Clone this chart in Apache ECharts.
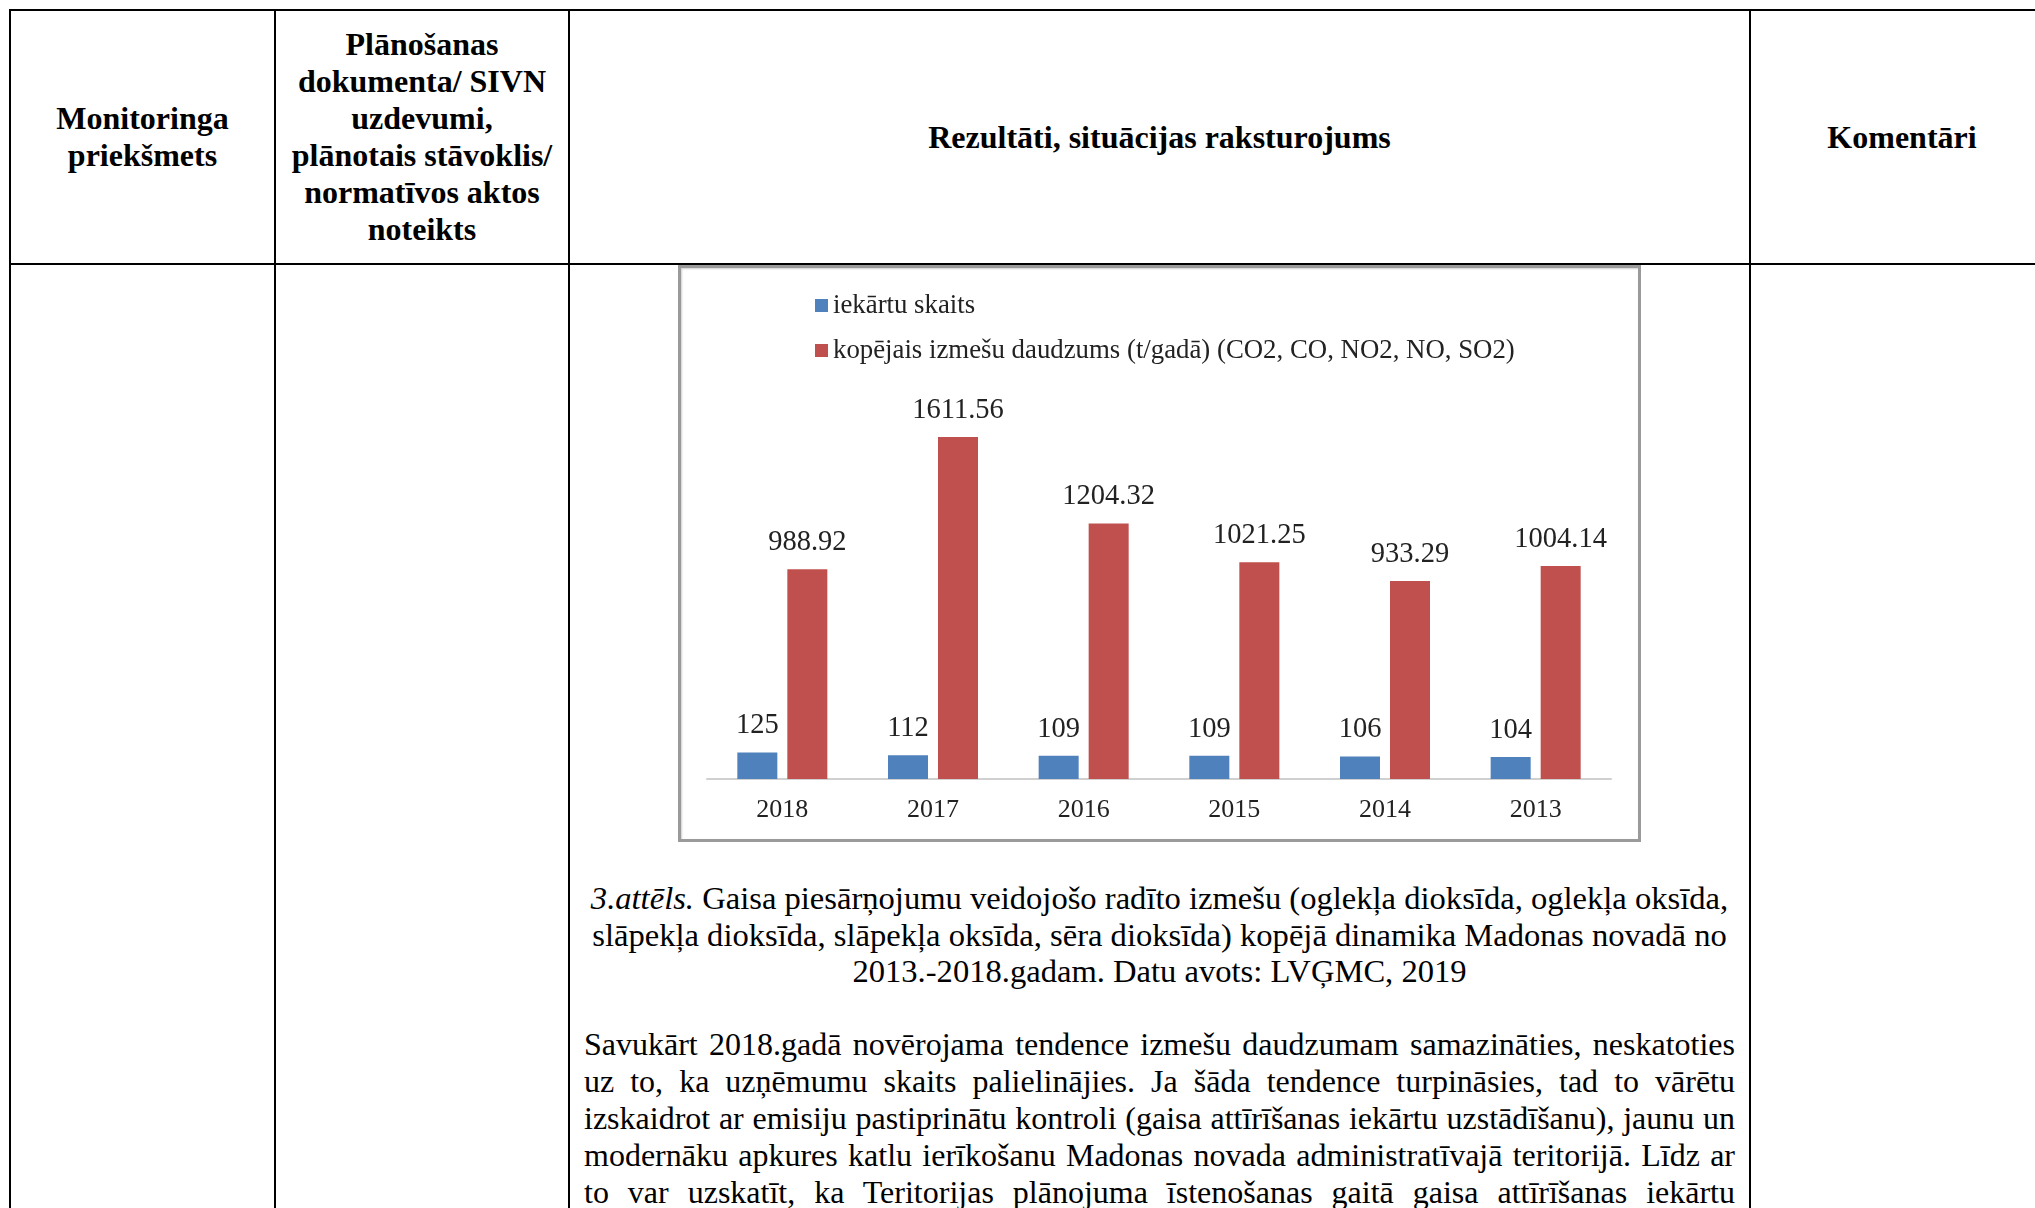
<!DOCTYPE html>
<html>
<head>
<meta charset="utf-8">
<script src="https://cdn.jsdelivr.net/npm/echarts@6/dist/echarts.min.js"></script>
<style>
  html, body { margin: 0; padding: 0; background: #fff; }
  body { width: 2035px; height: 1208px; position: relative; overflow: hidden;
         font-family: "Liberation Serif", "Times New Roman", serif; color: #000; }
  .hl { position: absolute; left: 9px; right: 0; height: 2px; background: #000; }
  .vl { position: absolute; top: 9px; bottom: 0; width: 2px; background: #000; }
  .head { position: absolute; top: 11px; height: 252px; display: flex; align-items: center;
          justify-content: center; text-align: center; font-weight: bold; font-size: 32px;
          line-height: 37px; }
  .caption { position: absolute; left: 570px; width: 1179px; top: 880px; text-align: center;
             font-size: 32.6px; line-height: 36.5px; }
  .para { position: absolute; left: 584px; width: 1151px; top: 1026px; font-size: 32px;
          line-height: 37px; }
  .para div { text-align: justify; text-align-last: justify; white-space: nowrap; }
  #chartBox { position: absolute; left: 678px; top: 265px; width: 957px; height: 571px;
              border: 3px solid #9a9a9a; box-shadow: inset 1px 1px 2px #cfcfcf; background: #fff; }
  #chart { width: 957px; height: 571px; }
</style>
</head>
<body>
<div class="hl" style="top:9px"></div>
<div class="hl" style="top:263px"></div>
<div class="vl" style="left:9px"></div>
<div class="vl" style="left:274px"></div>
<div class="vl" style="left:568px"></div>
<div class="vl" style="left:1749px"></div>

<div class="head" style="left:11px;width:263px">Monitoringa<br>priekšmets</div>
<div class="head" style="left:276px;width:292px">Plānošanas<br>dokumenta/ SIVN<br>uzdevumi,<br>plānotais stāvoklis/<br>normatīvos aktos<br>noteikts</div>
<div class="head" style="left:570px;width:1179px">Rezultāti, situācijas raksturojums</div>
<div class="head" style="left:1751px;width:302px">Komentāri</div>

<div id="chartBox"><div id="chart"></div></div>

<div class="caption"><i>3.attēls.</i> Gaisa piesārņojumu veidojošo radīto izmešu (oglekļa dioksīda, oglekļa oksīda,<br>slāpekļa dioksīda, slāpekļa oksīda, sēra dioksīda) kopējā dinamika Madonas novadā no<br>2013.-2018.gadam. Datu avots: LVĢMC, 2019</div>

<div class="para">
  <div>Savukārt 2018.gadā novērojama tendence izmešu daudzumam samazināties, neskatoties</div>
  <div>uz to, ka uzņēmumu skaits palielinājies. Ja šāda tendence turpināsies, tad to vārētu</div>
  <div>izskaidrot ar emisiju pastiprinātu kontroli (gaisa attīrīšanas iekārtu uzstādīšanu), jaunu un</div>
  <div>modernāku apkures katlu ierīkošanu Madonas novada administratīvajā teritorijā. Līdz ar</div>
  <div>to var uzskatīt, ka Teritorijas plānojuma īstenošanas gaitā gaisa attīrīšanas iekārtu</div>
</div>

<script>
const years = ['2018', '2017', '2016', '2015', '2014', '2013']
const unitCount = [125, 112, 109, 109, 106, 104]
const emissions = [988.92, 1611.56, 1204.32, 1021.25, 933.29, 1004.14]
const seriesNames = ['iekārtu skaits', 'kopējais izmešu daudzums (t/gadā) (CO2, CO, NO2, NO, SO2)']
const colors = ['#4f81bd', '#c0504d']

const font = '"Liberation Serif", "Times New Roman", serif'

function barSeries(name, data, color) {
  return {
    name,
    type: 'bar',
    data,
    barWidth: 40,
    barGap: '25%',
    itemStyle: { color },
    label: {
      show: true,
      position: 'top',
      distance: 12,
      fontSize: 28.5,
      fontFamily: font,
      color: '#222'
    }
  }
}

const chart = echarts.init(document.getElementById('chart'))
chart.setOption({
  animation: false,
  color: colors,
  legend: {
    orient: 'vertical',
    left: 134,
    top: 24,
    padding: 0,
    itemWidth: 13,
    itemHeight: 13,
    itemGap: 18,
    icon: 'rect',
    textStyle: { fontSize: 26.8, fontFamily: font, color: '#222' },
    data: seriesNames
  },
  grid: { left: 26, right: 27, top: 129, bottom: 60 },
  xAxis: {
    type: 'category',
    data: years,
    axisLine: { lineStyle: { color: '#d0d0d0', width: 2 } },
    axisTick: { show: false },
    axisLabel: { fontSize: 26, fontFamily: font, color: '#222', margin: 18 }
  },
  yAxis: {
    type: 'value',
    min: 0,
    max: 1800,
    show: false,
    splitLine: { show: false }
  },
  series: [
    barSeries(seriesNames[0], unitCount, colors[0]),
    barSeries(seriesNames[1], emissions, colors[1])
  ]
})
</script>
</body>
</html>
